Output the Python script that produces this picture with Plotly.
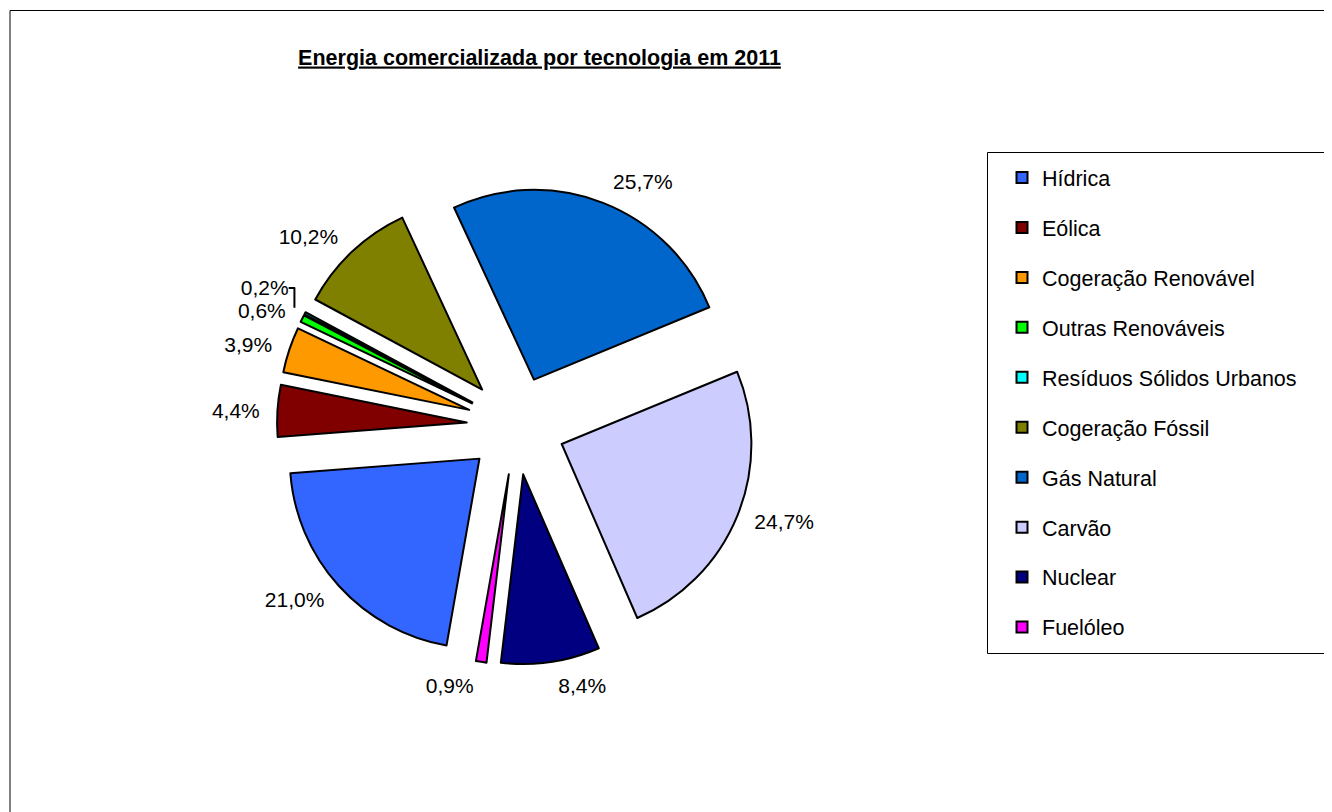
import plotly.graph_objects as go

# ---- data ----
categories = ["Hídrica", "Eólica", "Cogeração Renovável", "Outras Renováveis",
              "Resíduos Sólidos Urbanos", "Cogeração Fóssil", "Gás Natural",
              "Carvão", "Nuclear", "Fuelóleo"]
shares = [21.0, 4.4, 3.9, 0.6, 0.2, 10.2, 25.7, 24.7, 8.4, 0.9]
colors = ["#3366FF", "#800000", "#FF9900", "#00FF00", "#00FFFF",
          "#808000", "#0066CC", "#CCCCFF", "#000080", "#FF00FF"]
title_text = "Energia comercializada por tecnologia em 2011"

W, H = 1332, 812
OFF = 8  # page body margin
FONT = "Liberation Sans, Arial, sans-serif"

def px_x(v):
    return (v - OFF) / W

def px_y(v):
    return 1 - (v - OFF) / H

pull = 0.26
rotation = 190
cx, cy, rtot = 516, 425.5, 239
label_scale = 1.05

def dom(r):
    return dict(x=[px_x(cx - r), px_x(cx + r)], y=[px_y(cy + r), px_y(cy - r)])

fig = go.Figure()
# label carrier (transparent, slightly larger) so labels sit a bit further out
fig.add_trace(go.Pie(
    labels=categories, values=shares, sort=False, direction="clockwise",
    rotation=rotation, pull=[pull] * len(shares),
    marker=dict(colors=["rgba(0,0,0,0)"] * len(shares),
                line=dict(width=0, color="rgba(0,0,0,0)")),
    texttemplate="%{percent:.1%}", textposition="outside",
    outsidetextfont=dict(family=FONT, size=21, color="black"),
    domain=dom(rtot * label_scale), showlegend=False, hoverinfo="skip",
))
fig.add_trace(go.Pie(
    labels=categories, values=shares, sort=False, direction="clockwise",
    rotation=rotation, pull=[pull] * len(shares),
    marker=dict(colors=colors, line=dict(color="black", width=2)),
    textinfo="none",
    domain=dom(rtot), showlegend=False, hoverinfo="label+percent",
))

# legend entries (one group per category to control spacing)
for name, col in zip(categories, colors):
    fig.add_trace(go.Scatter(
        x=[None], y=[None], mode="markers", name=name, legendgroup=name,
        marker=dict(symbol="square", size=11, color=col,
                    line=dict(color="black", width=2)),
        showlegend=True, hoverinfo="skip",
    ))

fig.update_layout(
    width=W, height=H, margin=dict(l=0, r=0, t=0, b=0),
    paper_bgcolor="white", plot_bgcolor="white",
    separators=", ",
    font=dict(family=FONT, color="black"),
    title=dict(text="<b><u>" + title_text + "</u></b>", x=px_x(539.5), y=px_y(57),
               xanchor="center", yanchor="middle", xref="paper", yref="paper",
               font=dict(family=FONT, size=21.5, color="black")),
    xaxis=dict(visible=False), yaxis=dict(visible=False),
    legend=dict(x=px_x(994), y=px_y(157), xanchor="left", yanchor="top",
                font=dict(family=FONT, size=21.5, color="black"),
                bgcolor="rgba(0,0,0,0)", borderwidth=0,
                tracegroupgap=19, indentation=8),
    shapes=[
        dict(type="rect", xref="paper", yref="paper",
             x0=px_x(10), x1=px_x(1360), y0=px_y(10.5), y1=px_y(840),
             line=dict(color="black", width=1), fillcolor="rgba(0,0,0,0)"),
        dict(type="rect", xref="paper", yref="paper",
             x0=px_x(987.5), x1=px_x(1360), y0=px_y(152.5), y1=px_y(653.5),
             line=dict(color="black", width=1), fillcolor="rgba(0,0,0,0)"),
    ],
)

fig.write_html("out.html")
